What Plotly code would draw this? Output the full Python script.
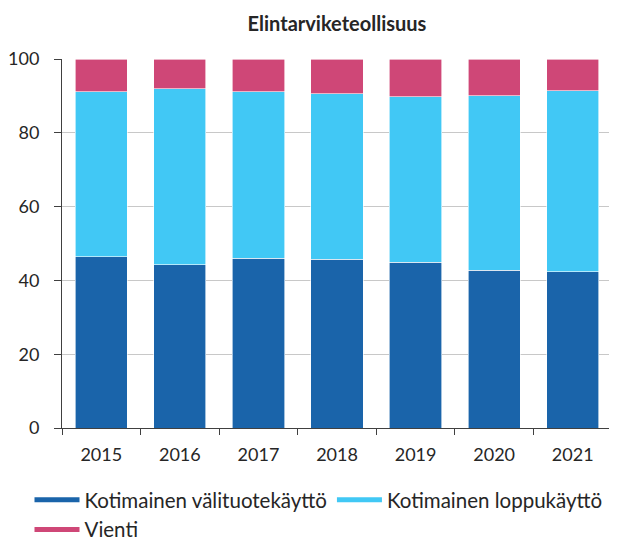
import plotly.graph_objects as go

years = ["2015", "2016", "2017", "2018", "2019", "2020", "2021"]
valituote = [46.4, 44.2, 46.0, 45.8, 44.9, 42.8, 42.3]
loppukaytto = [44.7, 47.7, 45.1, 44.8, 44.9, 47.2, 49.1]
vienti = [8.9, 8.1, 8.9, 9.4, 10.2, 10.0, 8.6]

names = ["Kotimainen välituotekäyttö", "Kotimainen loppukäyttö", "Vienti"]
colors = ["#1A64AA", "#41C8F5", "#CF4777"]
series = [valituote, loppukaytto, vienti]

FONT = "Lato, Carlito, Calibri, sans-serif"
W, H = 609, 533  # page body has an 8px margin
L, R, T, B = 54, 5, 51, 113
PW, PH = W - L - R, H - T - B

fig = go.Figure()
for name, vals, col in zip(names, series, colors):
    fig.add_trace(go.Bar(x=years, y=vals, name=name,
                         marker=dict(color=col, line=dict(color="white", width=0.6)),
                         showlegend=False, width=0.665))
# legend entries drawn as thick lines
for name, col in zip(names, colors):
    fig.add_trace(go.Scatter(x=[None], y=[None], mode="lines", name=name,
                             line=dict(color=col, width=5), showlegend=True))

fig.update_layout(
    barmode="stack",
    width=W, height=H,
    margin=dict(l=L, r=R, t=T, b=B, autoexpand=False),
    paper_bgcolor="white", plot_bgcolor="white",
    font=dict(family=FONT, size=18, color="#262626"),
    title=dict(text="<b>Elintarviketeollisuus</b>", x=0.5, xref="paper", xanchor="center",
               y=1 - 16 / H, yanchor="middle", yref="container",
               font=dict(family=FONT, size=20, color="#262626")),
    showlegend=True,
    legend=dict(orientation="h", xref="paper", yref="paper",
                x=(21.5 - L) / PW, y=-(472 - (H - B)) / PH,
                xanchor="left", yanchor="top", entrywidth=0,
                font=dict(family=FONT, size=20.5, color="#262626"), traceorder="normal",
                itemwidth=45),
)
fig.update_xaxes(type="category", showline=True, linecolor="#404040", linewidth=1,
                 ticks="outside", tickson="boundaries", ticklen=6, tickcolor="#404040",
                 ticklabelstandoff=10, showgrid=False, range=[-0.5, 6.5])
fig.update_yaxes(range=[0, 100], tickvals=[0, 20, 40, 60, 80, 100], showline=True,
                 linecolor="#404040", linewidth=1, ticks="outside", ticklen=7, tickcolor="#404040",
                 showgrid=True, gridcolor="#C8C8C8", gridwidth=1, zeroline=False,
                 ticklabelstandoff=11)

fig.write_html("out.html")
